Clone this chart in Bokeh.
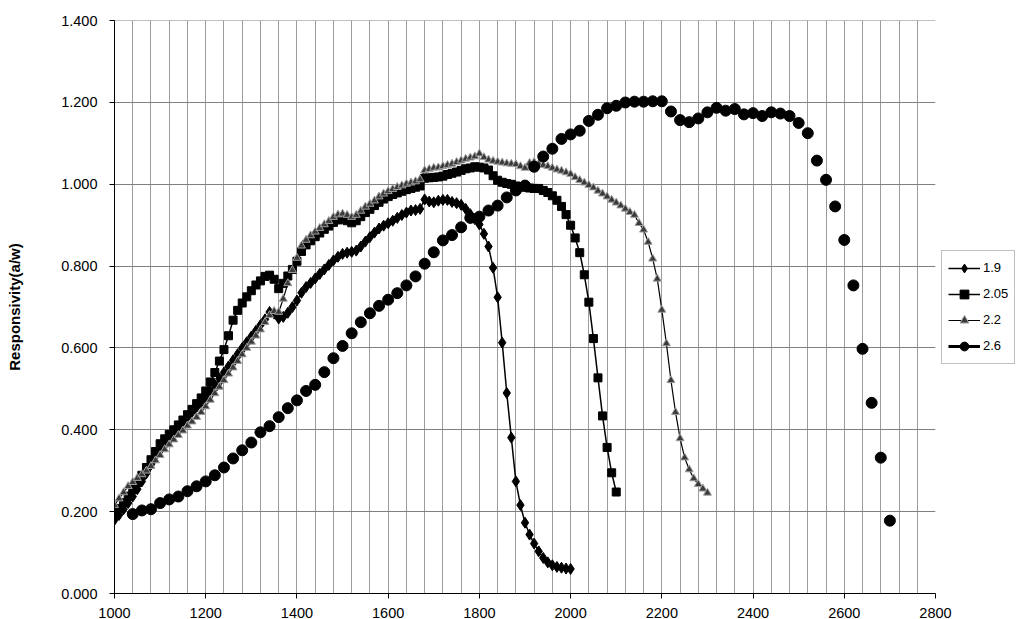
from bokeh.plotting import figure
from bokeh.models import Legend, LegendItem, SingleIntervalTicker, NumeralTickFormatter, Range1d
from bokeh.embed import file_html
from bokeh.resources import INLINE

# wavelength grids (nm)
wl_19 = list(range(1000, 2001, 10))
wl_205 = list(range(1000, 2101, 10))
wl_22 = list(range(1000, 2301, 10))
wl_26 = list(range(1040, 2701, 20))

# responsivity (A/W) per cutoff wavelength (um)
resp_19 = [
    0.180, 0.192, 0.206, 0.221, 0.237, 0.255, 0.274, 0.294, 0.315, 0.337,
    0.358, 0.372, 0.385, 0.397, 0.408, 0.420, 0.432, 0.444, 0.456, 0.468,
    0.481, 0.495, 0.510, 0.525, 0.540, 0.555, 0.570, 0.585, 0.600, 0.614,
    0.628, 0.642, 0.656, 0.670, 0.688, 0.684, 0.672, 0.676, 0.686, 0.700,
    0.716, 0.735, 0.749, 0.759, 0.770, 0.781, 0.792, 0.803, 0.814, 0.823,
    0.830, 0.833, 0.835, 0.838, 0.848, 0.860, 0.871, 0.882, 0.892, 0.899,
    0.905, 0.911, 0.918, 0.925, 0.931, 0.936, 0.937, 0.940, 0.963, 0.958,
    0.956, 0.960, 0.962, 0.962, 0.957, 0.954, 0.950, 0.940, 0.927, 0.915,
    0.902, 0.879, 0.848, 0.796, 0.724, 0.613, 0.490, 0.381, 0.274, 0.216,
    0.173, 0.144, 0.122, 0.103, 0.087, 0.076, 0.069, 0.065, 0.063, 0.061,
    0.060,
]

resp_205 = [
    0.195, 0.208, 0.222, 0.238, 0.254, 0.271, 0.289, 0.308, 0.327, 0.347,
    0.366, 0.378, 0.389, 0.400, 0.412, 0.424, 0.437, 0.450, 0.464, 0.478,
    0.495, 0.517, 0.540, 0.568, 0.596, 0.630, 0.668, 0.692, 0.710, 0.725,
    0.740, 0.754, 0.764, 0.775, 0.778, 0.768, 0.745, 0.758, 0.776, 0.792,
    0.812, 0.836, 0.852, 0.862, 0.872, 0.881, 0.890, 0.898, 0.907, 0.913,
    0.915, 0.911, 0.906, 0.911, 0.921, 0.931, 0.939, 0.948, 0.956, 0.964,
    0.970, 0.975, 0.979, 0.983, 0.987, 0.990, 0.993, 0.996, 1.015, 1.016,
    1.017, 1.018, 1.020, 1.024, 1.027, 1.030, 1.034, 1.038, 1.040, 1.043,
    1.042, 1.040, 1.035, 1.021, 1.010, 1.005, 1.002, 1.000, 0.996, 0.994,
    0.993, 0.991, 0.990, 0.990, 0.985, 0.980, 0.972, 0.961, 0.946, 0.926,
    0.900, 0.869, 0.833, 0.779, 0.712, 0.623, 0.527, 0.434, 0.357, 0.295,
    0.248,
]

resp_22 = [
    0.216, 0.232, 0.247, 0.262, 0.272, 0.282, 0.291, 0.300, 0.311, 0.325,
    0.338, 0.352, 0.364, 0.376, 0.387, 0.398, 0.410, 0.420, 0.431, 0.443,
    0.457, 0.473, 0.489, 0.505, 0.521, 0.537, 0.552, 0.568, 0.584, 0.600,
    0.615, 0.630, 0.645, 0.663, 0.680, 0.690, 0.688, 0.720, 0.758, 0.790,
    0.820, 0.850, 0.864, 0.875, 0.884, 0.893, 0.902, 0.910, 0.920, 0.926,
    0.928, 0.925, 0.920, 0.925, 0.935, 0.945, 0.952, 0.960, 0.970, 0.977,
    0.983, 0.988, 0.993, 0.997, 1.001, 1.004, 1.007, 1.012, 1.034, 1.037,
    1.040, 1.041, 1.044, 1.047, 1.050, 1.054, 1.058, 1.062, 1.065, 1.068,
    1.075, 1.066, 1.060, 1.057, 1.055, 1.053, 1.051, 1.050, 1.049, 1.044,
    1.040, 1.052, 1.054, 1.050, 1.047, 1.044, 1.040, 1.036, 1.033, 1.029,
    1.025, 1.017, 1.010, 1.004, 0.998, 0.992, 0.984, 0.977, 0.970, 0.962,
    0.955, 0.948, 0.940, 0.932, 0.925, 0.905, 0.889, 0.859, 0.818, 0.769,
    0.693, 0.611, 0.521, 0.443, 0.379, 0.332, 0.303, 0.281, 0.267, 0.256,
    0.246,
]

resp_26 = [
    0.194, 0.203, 0.206, 0.221, 0.230, 0.237, 0.250, 0.262, 0.274, 0.289,
    0.308, 0.330, 0.350, 0.369, 0.394, 0.409, 0.431, 0.453, 0.472, 0.495,
    0.510, 0.541, 0.575, 0.605, 0.636, 0.663, 0.685, 0.703, 0.718, 0.734,
    0.753, 0.775, 0.806, 0.834, 0.863, 0.876, 0.895, 0.918, 0.921, 0.936,
    0.948, 0.968, 0.985, 0.997, 1.043, 1.068, 1.087, 1.111, 1.122, 1.131,
    1.155, 1.170, 1.186, 1.192, 1.200, 1.202, 1.202, 1.203, 1.203, 1.178,
    1.157, 1.152, 1.161, 1.176, 1.187, 1.180, 1.184, 1.171, 1.174, 1.167,
    1.176, 1.173, 1.167, 1.150, 1.125, 1.058, 1.011, 0.946, 0.864, 0.753,
    0.598, 0.466, 0.332, 0.178,
]

series_labels = ["1.9", "2.05", "2.2", "2.6"]
x_ticks_major = 200
x_grid_step = 40

FONT = "Liberation Sans"

p = figure(frame_width=821, frame_height=573, output_backend="svg", toolbar_location=None,
           x_range=Range1d(1000, 2800), y_range=Range1d(0, 1.4004),
           min_border_left=114, min_border_right=0, min_border_top=20,
           min_border_bottom=0)
p.outline_line_color = None
p.background_fill_color = "white"
p.border_fill_color = "white"

# grid
p.xgrid.ticker = SingleIntervalTicker(interval=x_grid_step)
p.xgrid.grid_line_color = "#9c9c9c"
p.xgrid.grid_line_width = 1
p.ygrid.ticker = SingleIntervalTicker(interval=0.2)
p.ygrid.grid_line_color = "#808080"
p.ygrid.grid_line_width = 1

# axes
p.xaxis.ticker = SingleIntervalTicker(interval=x_ticks_major)
p.yaxis.ticker = SingleIntervalTicker(interval=0.2)
p.yaxis.formatter = NumeralTickFormatter(format="0.000")
for ax in (p.xaxis[0], p.yaxis[0]):
    ax.axis_line_color = "black"
    ax.axis_line_width = 1
    ax.major_tick_line_color = "black"
    ax.major_tick_out = 5
    ax.major_tick_in = 0
    ax.minor_tick_out = 0
    ax.minor_tick_in = 0
    ax.major_label_text_font = FONT
    ax.major_label_text_font_size = "14.5px"
    ax.major_label_text_color = "black"
p.xaxis.major_label_standoff = 9
p.yaxis.major_label_standoff = 12
p.yaxis.axis_label = "Responsivity(a/w)"
p.yaxis.axis_label_text_font = FONT
p.yaxis.axis_label_text_font_size = "15px"
p.yaxis.axis_label_text_font_style = "bold"
p.yaxis.axis_label_text_color = "black"
p.yaxis.axis_label_standoff = 35

# 1.9 um: diamonds on a line
l19 = p.line(wl_19, resp_19, line_color="black", line_width=1.5)
s19 = p.scatter(wl_19, resp_19, marker="diamond", size=11, fill_color="black", line_color="black")

# 2.05 um: squares on a line
l205 = p.line(wl_205, resp_205, line_color="black", line_width=1.5)
s205 = p.scatter(wl_205, resp_205, marker="square", size=8, fill_color="black", line_color="black")

# 2.2 um: grey-edged triangles on a line
l22 = p.line(wl_22, resp_22, line_color="black", line_width=1.2)
s22 = p.scatter(wl_22, resp_22, marker="triangle", size=8, fill_color="#3a3a3a",
                line_color="#a0a0a0", line_width=1)

# 2.6 um: circles only; the key line comes from a renderer with no drawable point
s26 = p.scatter(wl_26, resp_26, marker="circle", size=11, fill_color="black", line_color="black")
l26 = p.line(x=[float("nan")], y=[float("nan")], line_color="black", line_width=3)

legend = Legend(items=[
    LegendItem(label=series_labels[0], renderers=[l19, s19]),
    LegendItem(label=series_labels[1], renderers=[l205, s205]),
    LegendItem(label=series_labels[2], renderers=[l22, s22]),
    LegendItem(label=series_labels[3], renderers=[l26, s26]),
], location="center_left")
legend.glyph_width = 32
legend.glyph_height = 22
legend.spacing = 4
legend.padding = 6
legend.margin = 6
legend.label_standoff = 3
legend.label_text_font = FONT
legend.label_text_font_size = "13px"
legend.label_text_color = "black"
legend.border_line_color = "#808080"
legend.border_line_width = 1
legend.background_fill_color = "white"
p.add_layout(legend, "right")

open("out.html", "w").write(file_html(p, INLINE))
